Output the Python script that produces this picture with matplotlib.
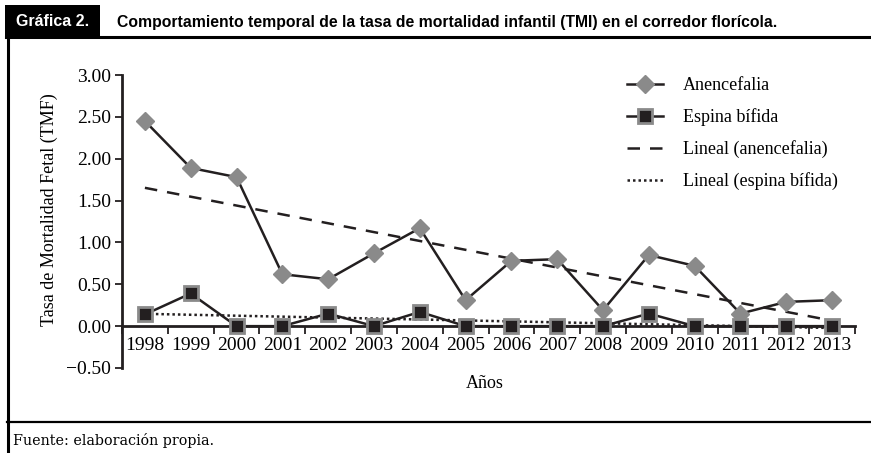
import numpy as np
import matplotlib.pyplot as plt
from matplotlib.patches import Rectangle
from matplotlib.lines import Line2D

# datos
anios = list(range(1998, 2014))
anencefalia = [2.45, 1.89, 1.78, 0.62, 0.56, 0.87, 1.17, 0.31,
               0.78, 0.80, 0.19, 0.85, 0.72, 0.15, 0.29, 0.31]
espina_bifida = [0.14, 0.39, 0.00, 0.00, 0.15, 0.00, 0.17, 0.00,
                 0.00, 0.00, 0.00, 0.15, 0.00, 0.00, 0.00, 0.00]
y_ticks = [-0.5, 0.0, 0.5, 1.0, 1.5, 2.0, 2.5, 3.0]

negro = '#231f20'
gris = '#8a8a8a'
serif = 'Liberation Serif'

fig = plt.figure(figsize=(8.71, 4.53), dpi=100)

# marco y encabezado
fig.add_artist(Rectangle((5/871, 1-36/453), 95/871, 31/453, transform=fig.transFigure,
                         facecolor='black', edgecolor='none'))
fig.text(16/871, 1-22/453, 'Gráfica 2.', color='white', fontsize=11.5, fontweight='bold',
         family='Liberation Sans', va='center', ha='left')
fig.text(117/871, 1-22/453, 'Comportamiento temporal de la tasa de mortalidad infantil (TMI) en el corredor florícola.',
         color='black', fontsize=11.3, fontweight='bold', family='Liberation Sans', va='center', ha='left')
fig.add_artist(Line2D([6/871, 1], [1-37/453, 1-37/453], transform=fig.transFigure, color='black', lw=2.2))
fig.add_artist(Line2D([7.5/871, 7.5/871], [0, 1-37/453], transform=fig.transFigure, color='black', lw=2.2))
fig.add_artist(Line2D([7/871, 1], [1-422/453, 1-422/453], transform=fig.transFigure, color='black', lw=1.6))
fig.text(13/871, 1-440/453, 'Fuente: elaboración propia.', fontsize=10.3, family='DejaVu Serif', va='center', ha='left')

ax = fig.add_axes([122/871, 1-368/453, 733/871, 293/453])

x = np.array(anios)
ax.plot(x, anencefalia, color=negro, lw=1.8, marker='D', markersize=9.5,
        markerfacecolor=gris, markeredgecolor=gris, label='Anencefalia', zorder=4)
ax.plot(x, espina_bifida, color=negro, lw=1.8, marker='s', markersize=10,
        markerfacecolor=negro, markeredgecolor=gris, markeredgewidth=2, label='Espina bífida', zorder=5)

# tendencias lineales
p1 = np.polyfit(x, anencefalia, 1)
p2 = np.polyfit(x, espina_bifida, 1)
ax.plot(x, np.polyval(p1, x), color=negro, lw=1.8, ls=(0, (5, 4)), label='Lineal (anencefalia)', zorder=3)
ax.plot(x, np.polyval(p2, x), color=negro, lw=1.8, ls=(0, (1, 1.2)), label='Lineal (espina bífida)', zorder=3)

ax.set_xlim(1997.5, 2013.5)
ax.set_ylim(-0.5, 3.0)
ax.spines['top'].set_visible(False)
ax.spines['right'].set_visible(False)
ax.spines['bottom'].set_position(('data', 0))
ax.spines['left'].set_linewidth(2)
ax.spines['bottom'].set_linewidth(2)
ax.spines['left'].set_color(negro)
ax.spines['bottom'].set_color(negro)

ax.set_yticks(y_ticks)
ax.set_yticklabels(['−0.50' if v < 0 else f'{v:.2f}' for v in y_ticks], family=serif, fontsize=14)
ax.set_xticks(np.arange(1997.5, 2014, 1))
ax.set_xticklabels([])
ax.set_xticks(x, minor=True)
ax.set_xticklabels([str(a) for a in anios], minor=True, family=serif, fontsize=14)
ax.tick_params(axis='x', which='major', direction='out', length=6, width=1.3, color=negro)
ax.tick_params(axis='x', which='minor', length=0, pad=8)
ax.tick_params(axis='y', direction='out', length=5, width=1.3, color=negro, pad=3)

ax.set_ylabel('Tasa de Mortalidad Fetal (TMF)', family=serif, fontsize=13)
ax.yaxis.set_label_coords(-64/733, 0.54)
fig.text(485/871, 1-383/453, 'Años', family=serif, fontsize=13, ha='center', va='center')

leg = ax.legend(loc='upper left', bbox_to_anchor=(620/871, 1-70/453), bbox_transform=fig.transFigure,
                frameon=False, prop={'family': serif, 'size': 13}, handlelength=2.0,
                labelspacing=0.78, handletextpad=1.1, borderaxespad=0)

fig.savefig('out.png', dpi=100)
